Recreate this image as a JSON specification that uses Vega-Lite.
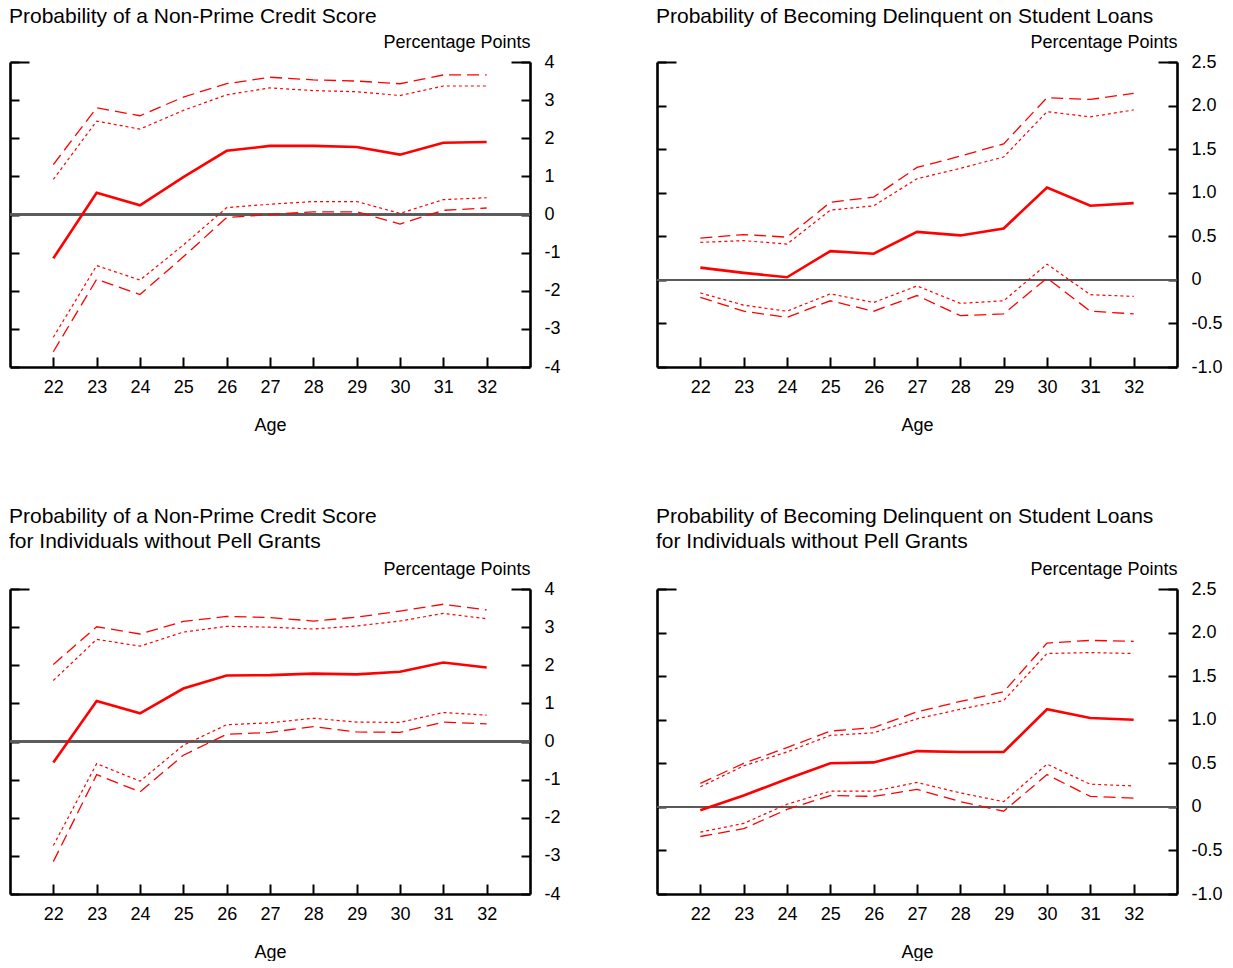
{
  "$schema": "https://vega.github.io/schema/vega-lite/v6.json",
  "padding": {"left": 9, "top": 6, "right": 0, "bottom": 0},
  "background": "white",
  "config": {
    "font": "Liberation Sans",
    "view": {"stroke": null},
    "axis": {
      "grid": false,
      "domainColor": "#000000",
      "domainWidth": 2.6,
      "tickColor": "#000000",
      "tickWidth": 2,
      "labelColor": "#000000",
      "labelFont": "Liberation Sans",
      "labelFontSize": 18,
      "titleColor": "#000000",
      "titleFont": "Liberation Sans",
      "titleFontSize": 18,
      "titleFontWeight": "normal"
    },
    "title": {"anchor": "start", "fontSize": 21, "fontWeight": "normal", "color": "#000000", "font": "Liberation Sans", "lineHeight": 25, "offset": 6},
    "line": {"color": "#ff0000"}
  },
  "data": {
    "values": [
      {"p": "A", "age": 22, "est": -1.15, "hi95": 1.31, "hi90": 0.92, "lo90": -3.22, "lo95": -3.6},
      {"p": "A", "age": 23, "est": 0.57, "hi95": 2.8, "hi90": 2.45, "lo90": -1.34, "lo95": -1.7},
      {"p": "A", "age": 24, "est": 0.24, "hi95": 2.59, "hi90": 2.24, "lo90": -1.72, "lo95": -2.1},
      {"p": "A", "age": 25, "est": 0.98, "hi95": 3.08, "hi90": 2.73, "lo90": -0.8, "lo95": -1.11},
      {"p": "A", "age": 26, "est": 1.67, "hi95": 3.43, "hi90": 3.14, "lo90": 0.18, "lo95": -0.08},
      {"p": "A", "age": 27, "est": 1.8, "hi95": 3.6, "hi90": 3.32, "lo90": 0.27, "lo95": 0.0},
      {"p": "A", "age": 28, "est": 1.8, "hi95": 3.53, "hi90": 3.25, "lo90": 0.34, "lo95": 0.07},
      {"p": "A", "age": 29, "est": 1.77, "hi95": 3.5, "hi90": 3.22, "lo90": 0.34, "lo95": 0.07},
      {"p": "A", "age": 30, "est": 1.57, "hi95": 3.43, "hi90": 3.12, "lo90": 0.03, "lo95": -0.25},
      {"p": "A", "age": 31, "est": 1.88, "hi95": 3.66, "hi90": 3.37, "lo90": 0.39, "lo95": 0.11},
      {"p": "A", "age": 32, "est": 1.9, "hi95": 3.66, "hi90": 3.37, "lo90": 0.44, "lo95": 0.17},
      {"p": "B", "age": 22, "est": 0.14, "hi95": 0.48, "hi90": 0.43, "lo90": -0.15, "lo95": -0.2},
      {"p": "B", "age": 23, "est": 0.08, "hi95": 0.52, "hi90": 0.45, "lo90": -0.29, "lo95": -0.36},
      {"p": "B", "age": 24, "est": 0.03, "hi95": 0.49, "hi90": 0.41, "lo90": -0.36, "lo95": -0.43},
      {"p": "B", "age": 25, "est": 0.33, "hi95": 0.89, "hi90": 0.8, "lo90": -0.16, "lo95": -0.24},
      {"p": "B", "age": 26, "est": 0.3, "hi95": 0.95, "hi90": 0.85, "lo90": -0.26, "lo95": -0.36},
      {"p": "B", "age": 27, "est": 0.55, "hi95": 1.29, "hi90": 1.16, "lo90": -0.07, "lo95": -0.18},
      {"p": "B", "age": 28, "est": 0.51, "hi95": 1.42, "hi90": 1.28, "lo90": -0.27, "lo95": -0.41},
      {"p": "B", "age": 29, "est": 0.59, "hi95": 1.56, "hi90": 1.41, "lo90": -0.24, "lo95": -0.39},
      {"p": "B", "age": 30, "est": 1.06, "hi95": 2.09, "hi90": 1.93, "lo90": 0.18, "lo95": 0.02},
      {"p": "B", "age": 31, "est": 0.85, "hi95": 2.07, "hi90": 1.87, "lo90": -0.17, "lo95": -0.36},
      {"p": "B", "age": 32, "est": 0.88, "hi95": 2.14, "hi90": 1.95, "lo90": -0.19, "lo95": -0.39},
      {"p": "C", "age": 22, "est": -0.55, "hi95": 2.02, "hi90": 1.6, "lo90": -2.73, "lo95": -3.15},
      {"p": "C", "age": 23, "est": 1.06, "hi95": 3.01, "hi90": 2.68, "lo90": -0.58, "lo95": -0.87},
      {"p": "C", "age": 24, "est": 0.74, "hi95": 2.82, "hi90": 2.5, "lo90": -1.04, "lo95": -1.32},
      {"p": "C", "age": 25, "est": 1.39, "hi95": 3.15, "hi90": 2.87, "lo90": -0.1, "lo95": -0.36},
      {"p": "C", "age": 26, "est": 1.73, "hi95": 3.28, "hi90": 3.02, "lo90": 0.44, "lo95": 0.19},
      {"p": "C", "age": 27, "est": 1.74, "hi95": 3.25, "hi90": 3.0, "lo90": 0.49, "lo95": 0.24},
      {"p": "C", "age": 28, "est": 1.78, "hi95": 3.16, "hi90": 2.95, "lo90": 0.61, "lo95": 0.39},
      {"p": "C", "age": 29, "est": 1.76, "hi95": 3.26, "hi90": 3.03, "lo90": 0.51, "lo95": 0.25},
      {"p": "C", "age": 30, "est": 1.83, "hi95": 3.42, "hi90": 3.16, "lo90": 0.5, "lo95": 0.24},
      {"p": "C", "age": 31, "est": 2.07, "hi95": 3.6, "hi90": 3.36, "lo90": 0.76, "lo95": 0.51},
      {"p": "C", "age": 32, "est": 1.94, "hi95": 3.45, "hi90": 3.22, "lo90": 0.69, "lo95": 0.46},
      {"p": "D", "age": 22, "est": -0.04, "hi95": 0.27, "hi90": 0.23, "lo90": -0.29, "lo95": -0.34},
      {"p": "D", "age": 23, "est": 0.13, "hi95": 0.5, "hi90": 0.47, "lo90": -0.19, "lo95": -0.25},
      {"p": "D", "age": 24, "est": 0.32, "hi95": 0.68, "hi90": 0.63, "lo90": 0.03, "lo95": -0.03},
      {"p": "D", "age": 25, "est": 0.5, "hi95": 0.87, "hi90": 0.82, "lo90": 0.18, "lo95": 0.13},
      {"p": "D", "age": 26, "est": 0.51, "hi95": 0.91, "hi90": 0.85, "lo90": 0.18, "lo95": 0.12},
      {"p": "D", "age": 27, "est": 0.64, "hi95": 1.09, "hi90": 1.01, "lo90": 0.28, "lo95": 0.2},
      {"p": "D", "age": 28, "est": 0.63, "hi95": 1.21, "hi90": 1.12, "lo90": 0.16, "lo95": 0.06},
      {"p": "D", "age": 29, "est": 0.63, "hi95": 1.32, "hi90": 1.22, "lo90": 0.06, "lo95": -0.05},
      {"p": "D", "age": 30, "est": 1.12, "hi95": 1.88, "hi90": 1.76, "lo90": 0.49, "lo95": 0.37},
      {"p": "D", "age": 31, "est": 1.02, "hi95": 1.91, "hi90": 1.77, "lo90": 0.26, "lo95": 0.12},
      {"p": "D", "age": 32, "est": 1.0, "hi95": 1.9, "hi90": 1.76, "lo90": 0.24, "lo95": 0.1}
    ]
  },
  "spacing": 72,
  "vconcat": [
    {
      "spacing": 95,
      "hconcat": [
        {
          "width": 520, "height": 305,
          "title": {"text": "Probability of a Non-Prime Credit Score"},
          "transform": [{"filter": "datum.p == 'A'"}],
          "resolve": {"axis": {"y": "independent"}},
          "layer": [
            {"mark": {"type": "rule", "color": "#5a5a5a", "strokeWidth": 1.3},
             "encoding": {"y": {"datum": 0, "type": "quantitative", "scale": {"domain": [-4, 4], "nice": false, "zero": false}, "axis": null}}},
            {"mark": {"type": "line", "color": "#ff0000", "strokeWidth": 2.6},
             "encoding": {
               "x": {"field": "age", "type": "quantitative", "scale": {"domain": [21, 33], "nice": false, "zero": false},
                     "axis": {"values": [22, 23, 24, 25, 26, 27, 28, 29, 30, 31, 32], "format": "d", "tickSize": -10, "labelPadding": 21, "title": "Age", "titlePadding": 20}},
               "y": {"field": "est", "type": "quantitative", "scale": {"domain": [-4, 4], "nice": false, "zero": false},
                     "axis": {"orient": "left", "values": [-4, -3, -2, -1, 0, 1, 2, 3, 4], "tickSize": -9, "labels": false, "title": null}}}},
            {"mark": {"type": "line", "color": "#ff0000", "strokeWidth": 1.3, "strokeDash": [12, 6]},
             "encoding": {
               "x": {"field": "age", "type": "quantitative"},
               "y": {"field": "hi95", "type": "quantitative", "scale": {"domain": [-4, 4], "nice": false, "zero": false},
                     "axis": {"orient": "right", "values": [-4, -3, -2, -1, 0, 1, 2, 3, 4], "labelExpr": "datum.value < 0 ? '-' + format(-datum.value, 'd') : format(datum.value, 'd')", "tickSize": -9, "labelPadding": 23, "title": "Percentage Points", "titleAngle": 0, "titleAlign": "right", "titleBaseline": "alphabetic", "titleX": 0, "titleY": -15}}}},
            {"mark": {"type": "line", "color": "#ff0000", "strokeWidth": 1.3, "strokeDash": [12, 6]},
             "encoding": {
               "x": {"field": "age", "type": "quantitative"},
               "y": {"field": "lo95", "type": "quantitative", "axis": null}}},
            {"mark": {"type": "line", "color": "#ff0000", "strokeWidth": 1.2, "strokeDash": [3, 3]},
             "encoding": {
               "x": {"field": "age", "type": "quantitative"},
               "y": {"field": "hi90", "type": "quantitative", "axis": {"orient": "left", "values": [4], "tickSize": -19, "domain": false, "labels": false, "title": null}}}},
            {"mark": {"type": "line", "color": "#ff0000", "strokeWidth": 1.2, "strokeDash": [3, 3]},
             "encoding": {
               "x": {"field": "age", "type": "quantitative"},
               "y": {"field": "lo90", "type": "quantitative", "axis": {"orient": "right", "values": [4], "tickSize": -19, "domain": false, "labels": false, "title": null}}}}
          ]
        },
        {
          "width": 520, "height": 305,
          "title": {"text": "Probability of Becoming Delinquent on Student Loans"},
          "transform": [{"filter": "datum.p == 'B'"}],
          "resolve": {"axis": {"y": "independent"}},
          "layer": [
            {"mark": {"type": "rule", "color": "#5a5a5a", "strokeWidth": 1.3},
             "encoding": {"y": {"datum": 0, "type": "quantitative", "scale": {"domain": [-1, 2.5], "nice": false, "zero": false}, "axis": null}}},
            {"mark": {"type": "line", "color": "#ff0000", "strokeWidth": 2.6},
             "encoding": {
               "x": {"field": "age", "type": "quantitative", "scale": {"domain": [21, 33], "nice": false, "zero": false},
                     "axis": {"values": [22, 23, 24, 25, 26, 27, 28, 29, 30, 31, 32], "format": "d", "tickSize": -10, "labelPadding": 21, "title": "Age", "titlePadding": 20}},
               "y": {"field": "est", "type": "quantitative", "scale": {"domain": [-1, 2.5], "nice": false, "zero": false},
                     "axis": {"orient": "left", "values": [-1, -0.5, 0, 0.5, 1, 1.5, 2, 2.5], "tickSize": -9, "labels": false, "title": null}}}},
            {"mark": {"type": "line", "color": "#ff0000", "strokeWidth": 1.3, "strokeDash": [12, 6]},
             "encoding": {
               "x": {"field": "age", "type": "quantitative"},
               "y": {"field": "hi95", "type": "quantitative", "scale": {"domain": [-1, 2.5], "nice": false, "zero": false},
                     "axis": {"orient": "right", "values": [-1, -0.5, 0, 0.5, 1, 1.5, 2, 2.5], "labelExpr": "datum.value == 0 ? '0' : (datum.value < 0 ? '-' + format(-datum.value, '.1f') : format(datum.value, '.1f'))", "tickSize": -9, "labelPadding": 23, "title": "Percentage Points", "titleAngle": 0, "titleAlign": "right", "titleBaseline": "alphabetic", "titleX": 0, "titleY": -15}}}},
            {"mark": {"type": "line", "color": "#ff0000", "strokeWidth": 1.3, "strokeDash": [12, 6]},
             "encoding": {
               "x": {"field": "age", "type": "quantitative"},
               "y": {"field": "lo95", "type": "quantitative", "axis": null}}},
            {"mark": {"type": "line", "color": "#ff0000", "strokeWidth": 1.2, "strokeDash": [3, 3]},
             "encoding": {
               "x": {"field": "age", "type": "quantitative"},
               "y": {"field": "hi90", "type": "quantitative", "axis": {"orient": "left", "values": [2.5], "tickSize": -19, "domain": false, "labels": false, "title": null}}}},
            {"mark": {"type": "line", "color": "#ff0000", "strokeWidth": 1.2, "strokeDash": [3, 3]},
             "encoding": {
               "x": {"field": "age", "type": "quantitative"},
               "y": {"field": "lo90", "type": "quantitative", "axis": {"orient": "right", "values": [2.5], "tickSize": -19, "domain": false, "labels": false, "title": null}}}}
          ]
        }
      ]
    },
    {
      "spacing": 95,
      "hconcat": [
        {
          "width": 520, "height": 305,
          "title": {"text": ["Probability of a Non-Prime Credit Score", "for Individuals without Pell Grants"], "offset": 8},
          "transform": [{"filter": "datum.p == 'C'"}],
          "resolve": {"axis": {"y": "independent"}},
          "layer": [
            {"mark": {"type": "rule", "color": "#5a5a5a", "strokeWidth": 1.3},
             "encoding": {"y": {"datum": 0, "type": "quantitative", "scale": {"domain": [-4, 4], "nice": false, "zero": false}, "axis": null}}},
            {"mark": {"type": "line", "color": "#ff0000", "strokeWidth": 2.6},
             "encoding": {
               "x": {"field": "age", "type": "quantitative", "scale": {"domain": [21, 33], "nice": false, "zero": false},
                     "axis": {"values": [22, 23, 24, 25, 26, 27, 28, 29, 30, 31, 32], "format": "d", "tickSize": -10, "labelPadding": 21, "title": "Age", "titlePadding": 20}},
               "y": {"field": "est", "type": "quantitative", "scale": {"domain": [-4, 4], "nice": false, "zero": false},
                     "axis": {"orient": "left", "values": [-4, -3, -2, -1, 0, 1, 2, 3, 4], "tickSize": -9, "labels": false, "title": null}}}},
            {"mark": {"type": "line", "color": "#ff0000", "strokeWidth": 1.3, "strokeDash": [12, 6]},
             "encoding": {
               "x": {"field": "age", "type": "quantitative"},
               "y": {"field": "hi95", "type": "quantitative", "scale": {"domain": [-4, 4], "nice": false, "zero": false},
                     "axis": {"orient": "right", "values": [-4, -3, -2, -1, 0, 1, 2, 3, 4], "labelExpr": "datum.value < 0 ? '-' + format(-datum.value, 'd') : format(datum.value, 'd')", "tickSize": -9, "labelPadding": 23, "title": "Percentage Points", "titleAngle": 0, "titleAlign": "right", "titleBaseline": "alphabetic", "titleX": 0, "titleY": -15}}}},
            {"mark": {"type": "line", "color": "#ff0000", "strokeWidth": 1.3, "strokeDash": [12, 6]},
             "encoding": {
               "x": {"field": "age", "type": "quantitative"},
               "y": {"field": "lo95", "type": "quantitative", "axis": null}}},
            {"mark": {"type": "line", "color": "#ff0000", "strokeWidth": 1.2, "strokeDash": [3, 3]},
             "encoding": {
               "x": {"field": "age", "type": "quantitative"},
               "y": {"field": "hi90", "type": "quantitative", "axis": {"orient": "left", "values": [4], "tickSize": -19, "domain": false, "labels": false, "title": null}}}},
            {"mark": {"type": "line", "color": "#ff0000", "strokeWidth": 1.2, "strokeDash": [3, 3]},
             "encoding": {
               "x": {"field": "age", "type": "quantitative"},
               "y": {"field": "lo90", "type": "quantitative", "axis": {"orient": "right", "values": [4], "tickSize": -19, "domain": false, "labels": false, "title": null}}}}
          ]
        },
        {
          "width": 520, "height": 305,
          "title": {"text": ["Probability of Becoming Delinquent on Student Loans", "for Individuals without Pell Grants"], "offset": 8},
          "transform": [{"filter": "datum.p == 'D'"}],
          "resolve": {"axis": {"y": "independent"}},
          "layer": [
            {"mark": {"type": "rule", "color": "#5a5a5a", "strokeWidth": 1.3},
             "encoding": {"y": {"datum": 0, "type": "quantitative", "scale": {"domain": [-1, 2.5], "nice": false, "zero": false}, "axis": null}}},
            {"mark": {"type": "line", "color": "#ff0000", "strokeWidth": 2.6},
             "encoding": {
               "x": {"field": "age", "type": "quantitative", "scale": {"domain": [21, 33], "nice": false, "zero": false},
                     "axis": {"values": [22, 23, 24, 25, 26, 27, 28, 29, 30, 31, 32], "format": "d", "tickSize": -10, "labelPadding": 21, "title": "Age", "titlePadding": 20}},
               "y": {"field": "est", "type": "quantitative", "scale": {"domain": [-1, 2.5], "nice": false, "zero": false},
                     "axis": {"orient": "left", "values": [-1, -0.5, 0, 0.5, 1, 1.5, 2, 2.5], "tickSize": -9, "labels": false, "title": null}}}},
            {"mark": {"type": "line", "color": "#ff0000", "strokeWidth": 1.3, "strokeDash": [12, 6]},
             "encoding": {
               "x": {"field": "age", "type": "quantitative"},
               "y": {"field": "hi95", "type": "quantitative", "scale": {"domain": [-1, 2.5], "nice": false, "zero": false},
                     "axis": {"orient": "right", "values": [-1, -0.5, 0, 0.5, 1, 1.5, 2, 2.5], "labelExpr": "datum.value == 0 ? '0' : (datum.value < 0 ? '-' + format(-datum.value, '.1f') : format(datum.value, '.1f'))", "tickSize": -9, "labelPadding": 23, "title": "Percentage Points", "titleAngle": 0, "titleAlign": "right", "titleBaseline": "alphabetic", "titleX": 0, "titleY": -15}}}},
            {"mark": {"type": "line", "color": "#ff0000", "strokeWidth": 1.3, "strokeDash": [12, 6]},
             "encoding": {
               "x": {"field": "age", "type": "quantitative"},
               "y": {"field": "lo95", "type": "quantitative", "axis": null}}},
            {"mark": {"type": "line", "color": "#ff0000", "strokeWidth": 1.2, "strokeDash": [3, 3]},
             "encoding": {
               "x": {"field": "age", "type": "quantitative"},
               "y": {"field": "hi90", "type": "quantitative", "axis": {"orient": "left", "values": [2.5], "tickSize": -19, "domain": false, "labels": false, "title": null}}}},
            {"mark": {"type": "line", "color": "#ff0000", "strokeWidth": 1.2, "strokeDash": [3, 3]},
             "encoding": {
               "x": {"field": "age", "type": "quantitative"},
               "y": {"field": "lo90", "type": "quantitative", "axis": {"orient": "right", "values": [2.5], "tickSize": -19, "domain": false, "labels": false, "title": null}}}}
          ]
        }
      ]
    }
  ]
}
